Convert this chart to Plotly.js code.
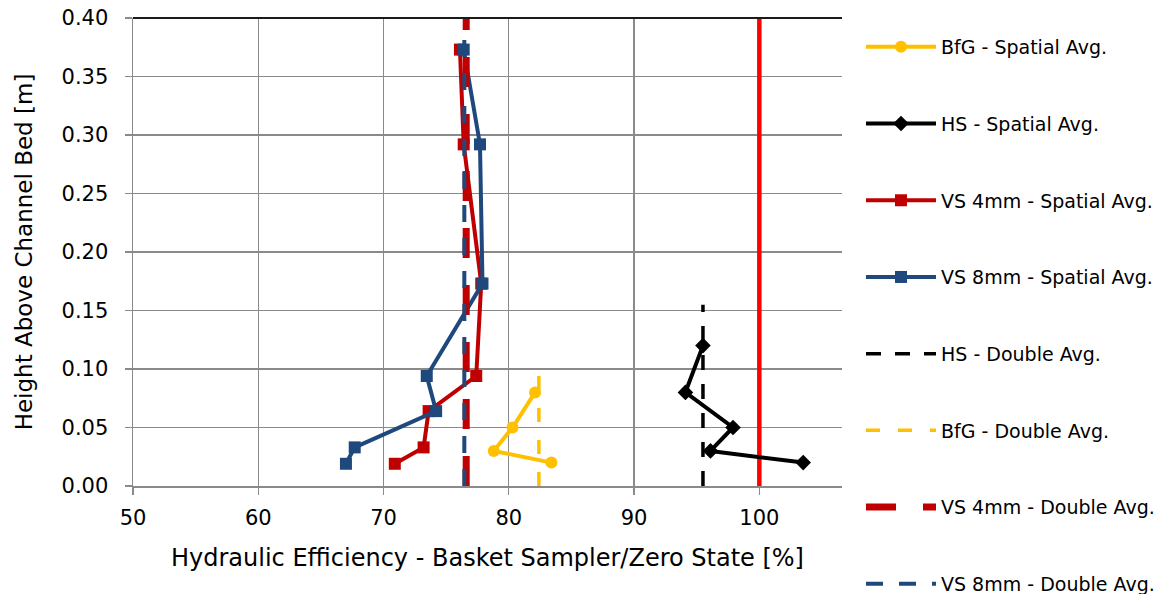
<!DOCTYPE html>
<html>
<head>
<meta charset="utf-8">
<script src="https://cdn.plot.ly/plotly-3.0.1.min.js"></script>
<style>html,body{margin:0;padding:0;background:#fff;}#chart{width:1166px;height:594px;}</style>
</head>
<body>
<div id="chart"></div>
<script>
// ---- data ----
const bfgHeights = [0.02, 0.03, 0.05, 0.08];
const bfgSpatial = [83.4, 78.8, 80.3, 82.1];

const hsHeights = [0.02, 0.03, 0.05, 0.08, 0.12];
const hsSpatial = [103.5, 96.1, 97.9, 94.1, 95.5];

const vsHeights = [0.019, 0.033, 0.064, 0.094, 0.173, 0.292, 0.373];
const vs4Spatial = [70.9, 73.2, 73.6, 77.4, 77.8, 76.4, 76.1];
const vs8Spatial = [67.0, 67.7, 74.2, 73.45, 77.9, 77.7, 76.4];

const hsDoubleX = [95.5, 95.5];
const hsDoubleY = [0, 0.155];
const bfgDoubleX = [82.4, 82.4];
const bfgDoubleY = [0, 0.10];
const vs4DoubleX = [76.6, 76.6];
const vs4DoubleY = [0, 0.40];
const vs8DoubleX = [76.45, 76.45];
const vs8DoubleY = [0, 0.385];

const refLineX = [100, 100];
const refLineY = [0, 0.40];

const xTitle = "Hydraulic Efficiency - Basket Sampler/Zero State [%]";
const yTitle = "Height Above Channel Bed [m]";

const FONT = "DejaVu Sans, Liberation Sans, Arial, sans-serif";
const GRID = "#8a8a8a";

const traces = [
  {x: refLineX, y: refLineY, mode: "lines", line: {color: "#FF0000", width: 4.5}, showlegend: false, hoverinfo: "skip"},
  {name: "BfG - Spatial Avg.", legendgroup: "g1", x: bfgSpatial, y: bfgHeights, mode: "lines+markers",
   line: {color: "#FFC000", width: 4}, marker: {symbol: "circle", size: 12, color: "#FFC000"}},
  {name: "HS - Spatial Avg.", legendgroup: "g2", x: hsSpatial, y: hsHeights, mode: "lines+markers",
   line: {color: "#000000", width: 4}, marker: {symbol: "diamond", size: 12, color: "#000000"}},
  {name: "VS 4mm - Spatial Avg.", legendgroup: "g3", x: vs4Spatial, y: vsHeights, mode: "lines+markers",
   line: {color: "#C00000", width: 4}, marker: {symbol: "square", size: 12, color: "#C00000"}},
  {name: "VS 8mm - Spatial Avg.", legendgroup: "g4", x: vs8Spatial, y: vsHeights, mode: "lines+markers",
   line: {color: "#1F497D", width: 4}, marker: {symbol: "square", size: 12, color: "#1F497D"}},
  {name: "HS - Double Avg.", legendgroup: "g5", x: hsDoubleX, y: hsDoubleY, mode: "lines",
   line: {color: "#000000", width: 3.5, dash: "15px,14px"}},
  {name: "BfG - Double Avg.", legendgroup: "g6", x: bfgDoubleX, y: bfgDoubleY, mode: "lines",
   line: {color: "#FFC000", width: 3.5, dash: "14px,18px"}},
  {name: "VS 4mm - Double Avg.", legendgroup: "g7", x: vs4DoubleX, y: vs4DoubleY, mode: "lines",
   line: {color: "#C00000", width: 7, dash: "30px,27px"}},
  {name: "VS 8mm - Double Avg.", legendgroup: "g8", x: vs8DoubleX, y: vs8DoubleY, mode: "lines",
   line: {color: "#1F497D", width: 4, dash: "17px,16px"}}
];

const axisCommon = {
  showgrid: true, gridcolor: GRID, gridwidth: 1.3,
  showline: true, linecolor: GRID, linewidth: 1.5,
  ticks: "outside", ticklen: 7, tickcolor: GRID, tickwidth: 1.3,
  zeroline: false, automargin: false, tickfont: {family: FONT, size: 21, color: "#000"}
};

const layout = {
  width: 1166, height: 594,
  margin: {l: 133, r: 324, t: 18, b: 108, autoexpand: false},
  paper_bgcolor: "#fff", plot_bgcolor: "#fff",
  font: {family: FONT, color: "#000"},
  xaxis: Object.assign({}, axisCommon, {
    range: [50, 106.6], tick0: 50, dtick: 10, ticklabelstandoff: 5,
    title: {text: xTitle, font: {family: FONT, size: 24, color: "#000"}, standoff: 20}
  }),
  yaxis: Object.assign({}, axisCommon, {
    range: [0, 0.4], tick0: 0, dtick: 0.05, tickformat: ".2f", ticklabelstandoff: 12,
    title: {text: yTitle, font: {family: FONT, size: 23, color: "#000"}, standoff: 22}
  }),
  legend: {
    x: 1.0268, xanchor: "left", y: 0.9786, yanchor: "top",
    font: {family: FONT, size: 19, color: "#000"},
    traceorder: "grouped", tracegroupgap: 49, itemwidth: 70,
    maxheight: 1000,
    bgcolor: "rgba(0,0,0,0)"
  },
  shapes: [
    {type: "line", xref: "paper", yref: "paper", x0: 0, x1: 1, y0: 1, y1: 1, line: {color: "#1a1a1a", width: 2}}
  ],
  showlegend: true
};

Plotly.newPlot("chart", traces, layout, {displayModeBar: false, staticPlot: true});
</script>
</body>
</html>
